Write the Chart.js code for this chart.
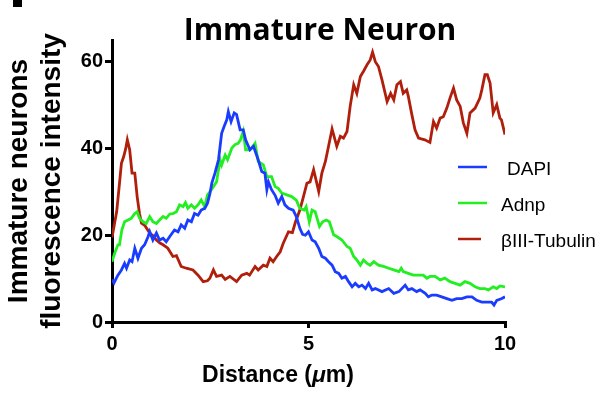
<!DOCTYPE html>
<html>
<head>
<meta charset="utf-8">
<title>Immature Neuron</title>
<script src="https://cdn.jsdelivr.net/npm/chart.js@4.4.1/dist/chart.umd.min.js"></script>
<style>
  html, body { margin: 0; padding: 0; background: #fff; }
  #wrap { position: relative; width: 613px; height: 394px; }
  #corner { position: absolute; left: 13px; top: 0; width: 9px; height: 7px; background: #000; }
</style>
</head>
<body>
<div id="wrap">
  <canvas id="profile" width="613" height="394"></canvas>
  <div id="corner"></div>
</div>
<script>
// line profile along the neurite, distance in µm
const seriesNames = ['DAPI', 'Adnp', 'βIII-Tubulin'];
const seriesColors = ['#1a3cff', '#22ee22', '#b01e0c'];

const xTicks = [0, 5, 10];
const yTicks = [0, 20, 40, 60];

const dapiX = [0, 0.05, 0.15, 0.24, 0.32, 0.37, 0.45, 0.51, 0.58, 0.66, 0.75, 0.83, 0.92, 0.96, 1.04, 1.13, 1.21, 1.30, 1.38, 1.47,
  1.59, 1.68, 1.76, 1.85, 1.93, 2.02, 2.10, 2.19, 2.27, 2.36, 2.43, 2.49, 2.54, 2.62, 2.71, 2.79, 2.85, 2.92, 2.96, 3.03,
  3.11, 3.17, 3.26, 3.34, 3.40, 3.51, 3.60, 3.72, 3.81, 3.89, 3.94, 3.98, 4.06, 4.15, 4.23, 4.32, 4.40, 4.49, 4.61, 4.69,
  4.78, 4.85, 4.92, 5.00, 5.09, 5.17, 5.26, 5.34, 5.43, 5.51, 5.60, 5.68, 5.77, 5.85, 5.94, 6.02, 6.11, 6.19, 6.28, 6.36,
  6.45, 6.53, 6.62, 6.70, 6.87, 7.04, 7.17, 7.30, 7.46, 7.54, 7.63, 7.75, 7.84, 7.97, 8.05, 8.14, 8.26, 8.39, 8.52, 8.65,
  8.77, 8.90, 9.03, 9.16, 9.28, 9.41, 9.53, 9.66, 9.72, 9.79, 9.92, 10.0];
const dapiY = [9.8, 9.0, 10.8, 12.0, 13.5, 12.4, 14.3, 13.9, 17.0, 14.7, 17.0, 17.8, 19.7, 20.8, 18.9, 20.5, 18.9, 19.3, 18.5, 19.7,
  21.2, 20.8, 22.4, 21.6, 23.5, 23.1, 25.0, 24.6, 25.8, 26.2, 27.4, 29.5, 32.0, 34.3, 37.4, 43.5, 45.0, 46.6, 48.5, 46.2,
  48.2, 47.8, 44.3, 44.3, 42.0, 39.7, 40.5, 37.4, 34.7, 34.3, 30.5, 32.3, 30.5, 29.2, 27.4, 28.9, 27.0, 26.2, 25.8, 24.3,
  21.6, 20.2, 20.0, 20.8, 18.9, 18.5, 17.0, 15.1, 14.7, 13.9, 13.1, 11.6, 11.2, 10.1, 10.5, 9.3, 8.1, 8.9, 8.1, 8.5,
  7.7, 8.9, 7.4, 7.7, 7.0, 7.7, 6.6, 7.0, 8.5, 7.4, 7.7, 7.0, 7.4, 6.6, 5.8, 6.2, 6.2, 5.8, 5.4, 5.0,
  5.4, 5.4, 5.8, 5.8, 5.0, 4.6, 4.6, 4.6, 3.9, 5.0, 5.4, 5.8];

const adnpX = [0, 0.07, 0.15, 0.19, 0.25, 0.32, 0.41, 0.49, 0.58, 0.64, 0.70, 0.79, 0.87, 0.96, 1.04, 1.13, 1.21, 1.30, 1.38, 1.47,
  1.55, 1.64, 1.72, 1.81, 1.87, 1.93, 2.02, 2.10, 2.19, 2.27, 2.36, 2.43, 2.49, 2.58, 2.66, 2.75, 2.79, 2.88, 2.94, 3.05,
  3.13, 3.21, 3.27, 3.34, 3.40, 3.51, 3.64, 3.72, 3.85, 3.94, 4.06, 4.15, 4.23, 4.32, 4.45, 4.57, 4.69, 4.78, 4.89, 4.94,
  5.02, 5.09, 5.17, 5.28, 5.36, 5.45, 5.53, 5.64, 5.72, 5.85, 5.98, 6.06, 6.15, 6.23, 6.32, 6.40, 6.49, 6.57, 6.66, 6.78,
  6.91, 7.04, 7.17, 7.30, 7.36, 7.41, 7.54, 7.67, 7.80, 7.92, 8.01, 8.09, 8.22, 8.35, 8.47, 8.60, 8.73, 8.86, 8.98, 9.11,
  9.24, 9.36, 9.49, 9.58, 9.70, 9.79, 9.87, 10.0];
const adnpY = [13.9, 15.9, 17.8, 17.8, 21.2, 23.1, 23.5, 23.9, 25.0, 25.4, 23.9, 23.1, 22.7, 24.3, 23.1, 22.7, 23.5, 24.3, 23.9, 24.9,
  25.0, 25.4, 27.0, 26.6, 27.5, 26.2, 27.0, 26.2, 27.0, 28.1, 26.6, 29.3, 30.0, 31.2, 32.3, 37.4, 36.2, 38.5, 37.4, 40.1,
  40.9, 41.2, 42.0, 43.9, 39.7, 39.7, 41.2, 37.0, 36.2, 33.5, 33.5, 31.2, 30.8, 29.7, 29.3, 28.9, 28.1, 26.2, 25.8, 26.6,
  23.1, 25.8, 25.4, 22.0, 23.1, 23.5, 23.1, 20.1, 19.7, 18.9, 17.4, 17.0, 15.1, 14.3, 13.1, 14.3, 13.5, 13.1, 13.9, 13.1,
  12.8, 12.4, 12.0, 11.6, 12.4, 11.6, 11.2, 10.8, 10.8, 10.8, 10.1, 10.5, 10.5, 9.7, 10.1, 9.3, 8.9, 8.5, 9.3, 8.9,
  8.1, 7.7, 7.7, 7.4, 8.1, 7.7, 8.3, 8.1];

const tubulinX = [0, 0.06, 0.12, 0.18, 0.24, 0.30, 0.35, 0.39, 0.45, 0.51, 0.58, 0.64, 0.70, 0.75, 0.83, 0.96, 1.05, 1.13, 1.22, 1.30,
  1.42, 1.55, 1.64, 1.76, 1.89, 2.06, 2.19, 2.32, 2.43, 2.49, 2.58, 2.66, 2.79, 2.88, 3.00, 3.17, 3.30, 3.43, 3.50, 3.64,
  3.72, 3.85, 3.94, 4.02, 4.10, 4.19, 4.28, 4.36, 4.49, 4.59, 4.67, 4.78, 4.86, 4.96, 5.04, 5.13, 5.26, 5.34, 5.43, 5.51,
  5.60, 5.72, 5.81, 5.89, 5.98, 6.06, 6.15, 6.23, 6.32, 6.40, 6.49, 6.57, 6.63, 6.70, 6.78, 6.87, 7.00, 7.09, 7.17, 7.25,
  7.34, 7.41, 7.50, 7.54, 7.63, 7.71, 7.80, 7.96, 8.09, 8.18, 8.26, 8.35, 8.43, 8.52, 8.60, 8.69, 8.77, 8.86, 8.94, 9.03,
  9.11, 9.24, 9.36, 9.41, 9.49, 9.55, 9.62, 9.70, 9.79, 9.87, 9.91, 10.0];
const tubulinY = [19.5, 22.5, 25.5, 31.0, 36.6, 38.2, 40.0, 42.0, 39.7, 34.3, 34.3, 28.9, 25.0, 22.8, 22.3, 20.5, 19.8, 18.9, 18.2, 17.8,
  17.0, 15.1, 15.3, 12.8, 12.4, 12.0, 10.8, 9.3, 9.5, 10.1, 12.0, 10.5, 10.8, 9.8, 10.5, 9.3, 10.8, 11.2, 10.8, 12.8,
  12.0, 13.1, 12.8, 14.7, 13.9, 15.1, 16.2, 18.2, 20.8, 20.6, 23.1, 25.8, 28.5, 32.0, 32.3, 35.1, 30.1, 34.3, 37.0, 40.5,
  44.5, 40.5, 42.8, 42.4, 43.9, 49.7, 54.7, 52.7, 56.6, 57.8, 59.3, 60.4, 62.2, 60.0, 58.9, 55.8, 50.8, 52.7, 51.2, 54.7,
  55.4, 52.7, 53.5, 52.0, 47.8, 44.3, 42.4, 42.0, 41.4, 46.2, 44.7, 47.0, 47.3, 49.3, 51.6, 53.9, 51.2, 49.7, 45.9, 43.5,
  48.2, 49.3, 51.6, 53.5, 57.0, 57.0, 55.1, 48.2, 50.1, 47.0, 46.6, 43.2];

const toPoints = (xs, ys) => xs.map((x, i) => ({ x: x, y: ys[i] }));
const seriesPoints = [toPoints(dapiX, dapiY), toPoints(adnpX, adnpY), toPoints(tubulinX, tubulinY)];

const axisFont = 'Liberation Sans, Arial, sans-serif';

// heading, x label with italic mu, and the line legend on the right
const decorations = {
  id: 'decorations',
  afterDraw(chart) {
    const ctx = chart.ctx;
    const area = chart.chartArea;
    ctx.save();
    ctx.fillStyle = '#000';
    ctx.textBaseline = 'alphabetic';

    ctx.font = 'bold 30px "Open Sans", sans-serif';
    ctx.textAlign = 'center';
    ctx.fillText('Immature Neuron', 320, 40);

    const parts = [
      ['Distance (', 'bold 23px ' + axisFont],
      ['μ', 'italic bold 23px ' + axisFont],
      ['m)', 'bold 23px ' + axisFont]
    ];
    let total = 0;
    parts.forEach(p => { ctx.font = p[1]; total += ctx.measureText(p[0]).width; });
    let x = 278 - total / 2;
    ctx.textAlign = 'left';
    parts.forEach(p => {
      ctx.font = p[1];
      ctx.fillText(p[0], x, 382);
      x += ctx.measureText(p[0]).width;
    });

    const rows = [area.top + 127, area.top + 163, area.top + 199];
    const lineEnds = [area.right - 18, area.right - 18, area.right - 24];
    const textX = [area.right + 2, area.right - 4, area.right - 4];
    ctx.font = '19px ' + axisFont;
    ctx.textBaseline = 'middle';
    chart.data.datasets.forEach((ds, i) => {
      ctx.strokeStyle = ds.borderColor;
      ctx.lineWidth = 2.5;
      ctx.beginPath();
      ctx.moveTo(area.right - 47, rows[i]);
      ctx.lineTo(lineEnds[i], rows[i]);
      ctx.stroke();
      ctx.fillStyle = '#000';
      ctx.fillText(ds.label, textX[i], rows[i] + 3);
    });
    ctx.restore();
  }
};

new Chart(document.getElementById('profile'), {
  type: 'line',
  data: {
    datasets: seriesNames.map((name, i) => ({
      label: name,
      data: seriesPoints[i],
      borderColor: seriesColors[i],
      backgroundColor: seriesColors[i],
      borderWidth: 2.8,
      pointRadius: 0,
      tension: 0,
      fill: false
    }))
  },
  options: {
    responsive: false,
    animation: false,
    layout: { padding: { top: 40, right: 108, left: 0, bottom: 0 } },
    plugins: {
      legend: { display: false },
      tooltip: { enabled: false }
    },
    scales: {
      x: {
        type: 'linear',
        min: 0,
        max: 10,
        afterBuildTicks: axis => { axis.ticks = xTicks.map(v => ({ value: v })); },
        afterFit: axis => { axis.height = 72; },
        ticks: { color: '#000', font: { family: axisFont, size: 20, weight: 'bold' }, padding: 4, maxRotation: 0 },
        grid: { display: true, drawOnChartArea: false, drawTicks: true, tickLength: 6, color: '#000', lineWidth: 3 },
        border: { display: true, color: '#000', width: 3 }
      },
      y: {
        type: 'linear',
        min: 0,
        max: 65,
        afterBuildTicks: axis => { axis.ticks = yTicks.map(v => ({ value: v })); },
        afterFit: axis => { axis.width = 112; },
        ticks: { color: '#000', font: { family: axisFont, size: 20, weight: 'bold' }, padding: 2 },
        grid: { display: true, drawOnChartArea: false, drawTicks: true, tickLength: 7, color: '#000', lineWidth: 3 },
        border: { display: true, color: '#000', width: 3 },
        title: {
          display: true,
          text: ['Immature neurons', 'fluorescence intensity'],
          color: '#000',
          font: { family: axisFont, size: 28, weight: 'bold', lineHeight: 1.2 },
          padding: { top: 2, bottom: 0 }
        }
      }
    }
  },
  plugins: [decorations]
});
</script>
</body>
</html>
